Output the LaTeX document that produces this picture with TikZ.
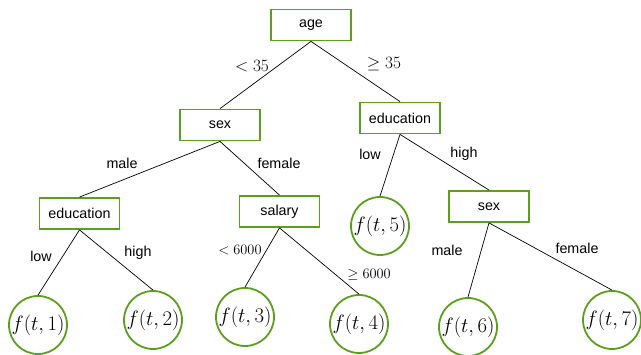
\documentclass[tikz,border=0pt]{standalone}
\usepackage{fontspec}
\setsansfont{Liberation Sans}
\definecolor{tgreen}{RGB}{92,158,30}
\begin{document}
\begin{tikzpicture}[x=1pt,y=-1pt,
  box/.style={draw=tgreen,line width=1.8pt,minimum width=80pt,minimum height=31pt,inner sep=0pt,font=\sffamily\fontsize{14.3}{16}\selectfont},
  leaf/.style={draw=tgreen,line width=1.8pt,circle,minimum size=58pt,inner sep=0pt,font=\fontsize{21.5}{24}\selectfont},
  edge/.style={line width=0.7pt},
  lab/.style={font=\sffamily\fontsize{14.3}{16}\selectfont},
  mlab/.style={font=\fontsize{18}{20}\selectfont},
  slab/.style={font=\fontsize{14}{15}\selectfont}]
\useasboundingbox (0,0) rectangle (641,355);
\node[box] (age) at (311,25) {age};
\node[box] (sex1) at (220,125) {sex};
\node[box] (edu2) at (400,118) {education};
\node[box] (edu1) at (79.5,213.5) {education};
\node[box] (sal) at (279.5,211.5) {salary};
\node[box] (sex2) at (489,206.5) {sex};
\node[leaf] (f1) at (38,325) {$f(t,1)$};
\node[leaf] (f2) at (153,320) {$f(t,2)$};
\node[leaf] (f3) at (245,317) {$f(t,3)$};
\node[leaf] (f4) at (359,324) {$f(t,4)$};
\node[leaf] (f5) at (380,226) {$f(t,5)$};
\node[leaf] (f6) at (468,327) {$f(t,6)$};
\node[leaf] (f7) at (612,320) {$f(t,7)$};
\draw[edge] (age.south) -- (sex1.north);
\draw[edge] (age.south) -- (edu2.north);
\draw[edge] (sex1.south) -- (edu1.north);
\draw[edge] (sex1.south) -- (sal.north);
\draw[edge] (edu1.south) -- (f1.north);
\draw[edge] (edu1.south) -- (f2.north);
\draw[edge] (sal.south) -- (f3.north);
\draw[edge] (sal.south) -- (f4.north);
\draw[edge] (edu2.south) -- (f5.north);
\draw[edge] (edu2.south) -- (sex2.north);
\draw[edge] (sex2.south) -- (f6.north);
\draw[edge] (sex2.south) -- (f7.north);
\node[mlab] (l1) at (252,66) {$<35$};
\node[mlab] (l2) at (384,64) {$\geq 35$};
\node[lab] (l3) at (122,163) {male};
\node[lab] (l4) at (279,163) {female};
\node[lab] (l5) at (41,256) {low};
\node[lab] (l6) at (138,253) {high};
\node[slab] (l7) at (240,250) {$<6000$};
\node[slab] (l8) at (369,275) {$\geq 6000$};
\node[lab] (l9) at (370,154) {low};
\node[lab] (l10) at (464,154) {high};
\node[lab] (l11) at (447,250) {male};
\node[lab] (l12) at (577,248) {female};
\end{tikzpicture}
\end{document}
